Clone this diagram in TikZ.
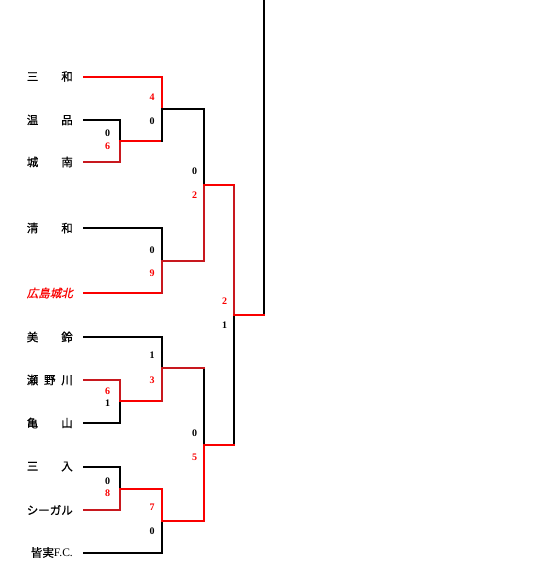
\documentclass[tikz,border=0pt]{standalone}
\usepackage{fontspec}
\setmainfont{Liberation Serif}
\newfontfamily\cjk{Noto Sans CJK JP}[FakeBold=0.7]
\newfontfamily\cjkit{Noto Sans CJK JP}[FakeSlant=0.22,FakeBold=0.7]
\definecolor{wred}{RGB}{250,0,0}
\definecolor{dred}{RGB}{200,24,30}
\tikzset{
  tname/.style={anchor=east,inner sep=0pt,font=\cjk\fontsize{11.5}{11.5}\selectfont},
  scorebox/.style={inner sep=0pt,font=\bfseries\fontsize{10}{10}\selectfont},
  rscorebox/.style={scorebox,text=wred},
  lnbase/.style={line width=2pt,line cap=rect},
  lnblack/.style={lnbase,black},
  lnred/.style={lnbase,wred},
  lndark/.style={lnbase,dred}
}
\begin{document}
\begin{tikzpicture}[x=1pt,y=-1pt]
\useasboundingbox[fill=white] (0,0) rectangle (540,570);
% team line starts
\coordinate (t1) at (84,76.5);
\coordinate (t2) at (84,120);
\coordinate (t3) at (84,162);
\coordinate (t4) at (84,228);
\coordinate (t5) at (84,293);
\coordinate (t6) at (84,337);
\coordinate (t7) at (84,380);
\coordinate (t8) at (84,423);
\coordinate (t9) at (84,466.5);
\coordinate (t10) at (84,510);
\coordinate (t11) at (84,552.5);
% match points
\coordinate (mA) at (120,140.5);
\coordinate (mB) at (162,108.5);
\coordinate (mC) at (162,261);
\coordinate (mD) at (204,185);
\coordinate (mE) at (120,400.5);
\coordinate (mF) at (162,368);
\coordinate (mG) at (120,489);
\coordinate (mH) at (162,521);
\coordinate (mI) at (204,445);
\coordinate (mS) at (234,314.5);
\coordinate (mT) at (264,314.5);
\coordinate (top) at (264,0);
% names
\node[tname] (n1) at (73,76.5) {\makebox[46pt]{三\hfill 和}};
\node[tname] (n2) at (73,120) {\makebox[46pt]{温\hfill 品}};
\node[tname] (n3) at (73,162) {\makebox[46pt]{城\hfill 南}};
\node[tname] (n4) at (73,228) {\makebox[46pt]{清\hfill 和}};
\node[tname,font=\cjkit\fontsize{11.5}{11.5}\selectfont,text=wred] (n5) at (73,293) {\makebox[46pt]{広\hfil 島\hfil 城\hfil 北}};
\node[tname] (n6) at (73,337) {\makebox[46pt]{美\hfill 鈴}};
\node[tname] (n7) at (73,380) {\makebox[46pt]{瀬\hfill 野\hfill 川}};
\node[tname] (n8) at (73,423) {\makebox[46pt]{亀\hfill 山}};
\node[tname] (n9) at (73,466.5) {\makebox[46pt]{三\hfill 入}};
\node[tname] (n10) at (73,510) {\makebox[46pt]{シ\hfil ー\hfil ガ\hfil ル}};
\node[tname] (n11) at (73,552.5) {皆実{\rmfamily\fontsize{11.5}{11.5}\selectfont F.C.}};
% match A
\draw[lnblack] (t2) -| (mA);
\draw[lndark] (t3) -| (mA);
% match B
\draw[lnred] (t1) -| (mB);
\draw[lnred] (mA) -- (mA -| mB);
\draw[lnblack] (mA -| mB) -- (mB);
% match C
\draw[lnblack] (t4) -| (mC);
\draw[lnred] (t5) -- (t5 -| mC);
\draw[lndark] (t5 -| mC) -- (mC);
% match D
\draw[lnblack] (mB) -| (mD);
\draw[lndark] (mC) -| (mD);
% match E
\draw[lndark] (t7) -| (mE);
\draw[lnblack] (t8) -| (mE);
% match F
\draw[lnblack] (t6) -| (mF);
\draw[lnred] (mE) -- (mE -| mF);
\draw[lndark] (mE -| mF) -- (mF);
% match G
\draw[lnblack] (t9) -| (mG);
\draw[lndark] (t10) -| (mG);
% match H
\draw[lnred] (mG) -| (mH);
\draw[lnblack] (t11) -| (mH);
% match I
\draw[lnblack] (mF -| mI) -- (mI);
\draw[lndark] (mF) -- (mF -| mI);
\draw[lnred] (mH) -| (mI);
% semi
\draw[lndark] (mD -| mS) -- (mS);
\draw[lnred] (mD) -- (mD -| mS);
\draw[lnblack] (mI -| mS) -- (mS);
\draw[lnred] (mI) -- (mI -| mS);
% final
\draw[lnblack] (mT) -- (top);
\draw[lnred] (mS) -- (mT);
% scores
\node[scorebox]  (sA1) at (107.5,133) {0};
\node[rscorebox] (sA2) at (107.5,146) {6};
\node[rscorebox] (sB1) at (152,97.5) {4};
\node[scorebox]  (sB2) at (152,121) {0};
\node[scorebox]  (sC1) at (152,250) {0};
\node[rscorebox] (sC2) at (152,273) {9};
\node[scorebox]  (sD1) at (194.5,171.5) {0};
\node[rscorebox] (sD2) at (194.5,195) {2};
\node[rscorebox] (sS1) at (224.5,301.5) {2};
\node[scorebox]  (sS2) at (224.5,325) {1};
\node[rscorebox] (sE1) at (107.5,391.5) {6};
\node[scorebox]  (sE2) at (107.5,403.5) {1};
\node[scorebox]  (sF1) at (152,355) {1};
\node[rscorebox] (sF2) at (152,380) {3};
\node[scorebox]  (sG1) at (107.5,481.5) {0};
\node[rscorebox] (sG2) at (107.5,493.5) {8};
\node[rscorebox] (sH1) at (152,507) {7};
\node[scorebox]  (sH2) at (152,531.5) {0};
\node[scorebox]  (sI1) at (194.5,433.5) {0};
\node[rscorebox] (sI2) at (194.5,457) {5};
\end{tikzpicture}
\end{document}
